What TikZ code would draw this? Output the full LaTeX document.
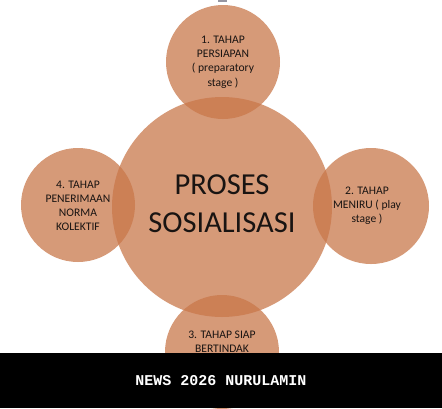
\documentclass[tikz,border=0pt]{standalone}
\usepackage{fontspec}
\setmainfont{Carlito}
\newfontfamily\bandfont{Liberation Mono}
\definecolor{bubble}{RGB}{201,119,74}
\definecolor{inktext}{RGB}{25,20,18}
\definecolor{barg}{RGB}{150,150,162}
\tikzset{
  bubble/.style={circle, draw=none, fill=bubble, fill opacity=0.74, inner sep=0pt},
  small/.style={font=\fontsize{11.6}{14.2}\selectfont, text=inktext, align=center},
  big/.style={font=\fontsize{30.5}{38}\selectfont, text=inktext, align=center},
}
\begin{document}
\begin{tikzpicture}[x=1pt,y=-1pt]
\useasboundingbox (0,0) rectangle (442,408);
\fill[white] (0,0) rectangle (442,408);
% tiny grey bar at top
\fill[barg] (218,0) rectangle (227,2);
% circles
\node[bubble, minimum size=220pt] (main) at (222,207) {};
\node[bubble, minimum size=114pt] (top) at (223,62) {};
\node[bubble, minimum size=116pt] (right) at (371,206) {};
\node[bubble, minimum size=114pt] (left) at (78,205) {};
\node[bubble, minimum size=114pt] (bottom) at (222,352) {};
% texts
\node[big] (maint) at (main.center) [yshift=3pt] {PROSES\\SOSIALISASI};
\node[small] (topt) at (top.center) {1. TAHAP\\PERSIAPAN\\( preparatory\\stage )};
\node[small] (rightt) at (right.center) [xshift=-4pt] {2. TAHAP\\MENIRU ( play\\stage )};
\node[small] (leftt) at (left.center) [yshift=-1pt] {4. TAHAP\\PENERIMAAN\\NORMA\\KOLEKTIF};
\node[small, anchor=north] (bottomt) at (222,327) {3. TAHAP SIAP\\BERTINDAK};
% black band
\fill[black] (0,353) rectangle (442,408);
\node[font=\bandfont\bfseries\fontsize{15}{18}\selectfont, text=white] (band) at (221,381) {NEWS 2026 NURULAMIN};
\end{tikzpicture}
\end{document}
